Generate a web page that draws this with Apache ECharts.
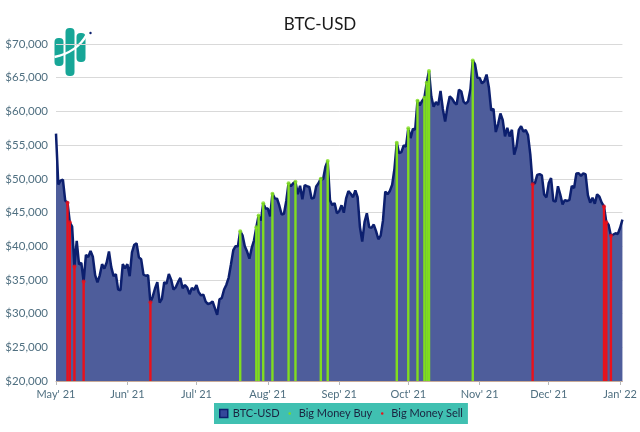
<!DOCTYPE html>
<html>
<head>
<meta charset="utf-8">
<script src="https://cdn.jsdelivr.net/npm/echarts@6/dist/echarts.min.js"></script>
<style>html,body{margin:0;padding:0;background:#fff}#c{width:640px;height:432px}</style>
</head>
<body>
<div id="c"></div>
<script>
// ---- data ----
const startDate = '2021-05-11';
const prices = [
56704,49151,49716,49881,46760,46456,43538,42909,37002,40783,37305,37537,34771,38706,38402,39294,38437,35698,34616,35678,37333,
36685,37575,39209,36894,35552,35862,33561,33473,37345,36703,37334,35553,39098,40218,40406,38347,38054,35787,35616,35698,31677,32506,33723,34662,31638,32186,34650,34434,35868,35041,
33572,33897,34669,35288,33746,34235,33855,32877,33798,33521,34240,33156,32702,32822,31781,31422,31533,31797,30818,29807,32111,32313,33582,34292,35350,37338,39407,39996,40008,42236,41626,
39975,39202,38153,39748,40870,42817,44556,43798,46365,45585,45594,44428,47793,47097,47047,46004,44695,44801,46718,49339,48905,49322,49546,47706,48961,46942,49059,48897,48807,47075,47167,
48847,49328,50025,49945,51753,52634,46811,46091,46391,44884,45201,46063,44963,47092,48176,47783,47268,48278,47260,42844,40694,43575,44895,42840,42717,43209,42236,41035,41564,43791,
48117,47711,48200,49113,51515,55361,53806,53968,54968,54772,57485,56041,57401,57322,61594,60892,61554,62026,64262,65993,62210,60692,61394,60931,63040,60364,58482,60622,62228,61889,61319,
61004,63226,62970,61452,61126,61527,63327,67567,66972,64995,64950,64156,64470,65467,63558,60161,60368,56942,58120,59697,58730,56289,57569,56280,57275,53570,54815,57248,57807,57005,
57230,56478,53598,49201,49369,50583,50700,50505,47672,47243,49363,50098,46737,46613,48897,47665,46202,46849,46707,46880,48937,48629,50785,50822,50430,50810,50640,47589,46445,47178,46306,
47687,47345,46458,45898,43569,43161,41558,41734,41912,41821,42736,43949
];
const buyDates = ['2021-07-30','2021-08-06','2021-08-07','2021-08-09','2021-08-13','2021-08-20','2021-08-23','2021-09-03','2021-09-06','2021-10-06','2021-10-11','2021-10-15','2021-10-18','2021-10-19','2021-10-20','2021-11-08'];
const sellDates = ['2021-05-16','2021-05-17','2021-05-19','2021-05-23','2021-06-21','2021-12-04','2022-01-04','2022-01-05','2022-01-07'];
const monthNames = ['Jan','Feb','Mar','Apr','May','Jun','Jul','Aug','Sep','Oct','Nov','Dec'];
const yTicks = {min: 20000, max: 70000, interval: 5000};

// ---- categories (one per day) ----
const dates = [];
{
  const d0 = new Date(startDate + 'T00:00:00Z');
  for (let i = 0; i < prices.length; i++) {
    const d = new Date(d0.getTime() + i * 86400000);
    dates.push(d.toISOString().slice(0, 10));
  }
}
const isLabelDay = (idx) => dates[idx] && dates[idx].slice(8, 10) === '11';
const buyData = dates.map((d, i) => buyDates.includes(d) ? prices[i] : '-');
const sellData = dates.map((d, i) => sellDates.includes(d) ? prices[i] : '-');

const NAVY = '#0c1f6e', AREA = '#4e5d9b', GREEN = '#80dd1e', RED = '#ea111b';
const dotIcon = 'path://M0 0 M10 10 M5 3.4 A1.6 1.6 0 1 1 5 6.6 A1.6 1.6 0 1 1 5 3.4 Z';

const chart = echarts.init(document.getElementById('c'));
chart.setOption({
  animation: false,
  textStyle: {fontFamily: 'Lato, "Open Sans", sans-serif'},
  title: {text: 'BTC-USD', left: 'center', top: 11, textStyle: {fontSize: 17, fontWeight: 'normal', color: '#1a1a1a', fontFamily: 'Lato, sans-serif'}},
  grid: {left: 56, right: 12, top: 44, bottom: 51},
  legend: {
    left: 214, bottom: 8, backgroundColor: '#40c0b1', padding: [5, 5, 5, 5],
    itemWidth: 8, itemHeight: 8, itemGap: 6,
    textStyle: {fontSize: 11, color: '#1b2340', fontFamily: 'Lato, sans-serif'},
    data: [
      {name: 'BTC-USD', icon: 'rect', itemStyle: {color: '#34479a', borderColor: NAVY, borderWidth: 1.5}},
      {name: 'Big Money Buy', icon: dotIcon, itemStyle: {color: GREEN}},
      {name: 'Big Money Sell', icon: dotIcon, itemStyle: {color: RED}}
    ]
  },
  xAxis: {
    type: 'category', data: dates, boundaryGap: false,
    axisLine: {lineStyle: {color: '#c8ab98', width: 1}},
    axisTick: {show: true, interval: (i) => isLabelDay(i), length: 4, lineStyle: {color: '#b9b9b9'}},
    axisLabel: {
      interval: (i) => isLabelDay(i), color: '#4f6f80', fontSize: 11, margin: 8,
      formatter: (v) => monthNames[+v.slice(5, 7) - 1] + "' " + v.slice(2, 4)
    },
    splitLine: {show: false}
  },
  yAxis: {
    type: 'value', min: yTicks.min, max: yTicks.max, interval: yTicks.interval,
    axisLine: {show: false}, axisTick: {show: false},
    axisLabel: {color: '#4f6f80', fontSize: 11.5, margin: 8, formatter: (v) => '$' + v.toLocaleString('en-US')},
    splitLine: {lineStyle: {color: '#d9d9d9', width: 1}}
  },
  series: [
    {name: 'BTC-USD', type: 'line', data: prices, symbol: 'none', smooth: false,
     lineStyle: {color: NAVY, width: 2.5}, itemStyle: {color: NAVY},
     areaStyle: {color: AREA, opacity: 1, origin: 'start'}, z: 2},
    {name: 'Big Money Buy', type: 'bar', data: buyData, barWidth: 2.4, barGap: '-100%',
     itemStyle: {color: GREEN}, z: 3},
    {name: 'Big Money Sell', type: 'bar', data: sellData, barWidth: 2.4, barGap: '-100%',
     itemStyle: {color: RED}, z: 3},
    {name: 'Big Money Buy', type: 'scatter', data: buyData, symbolSize: 4, itemStyle: {color: GREEN}, z: 4},
    {name: 'Big Money Sell', type: 'scatter', data: sellData, symbolSize: 4, itemStyle: {color: RED}, z: 4}
  ],
  graphic: [
    {type: 'group', left: 52, top: 28, children: [
      {type: 'rect', shape: {x: 0, y: 10, width: 9, height: 28, r: 4}, style: {fill: '#17a697'}},
      {type: 'rect', shape: {x: 11, y: 0, width: 9, height: 48, r: 4}, style: {fill: '#17a697'}},
      {type: 'rect', shape: {x: 22, y: 5, width: 9, height: 29, r: 4}, style: {fill: '#17a697'}},
      {type: 'bezierCurve', shape: {x1: 0, y1: 29, x2: 32, y2: 7, cpx1: 14, cpy1: 26, cpx2: 26, cpy2: 18}, style: {stroke: '#fff', lineWidth: 2.5, fill: null}},
      {type: 'circle', shape: {cx: 36, cy: 5, r: 1.2}, style: {fill: NAVY}}
    ]}
  ]
});
</script>
</body>
</html>
